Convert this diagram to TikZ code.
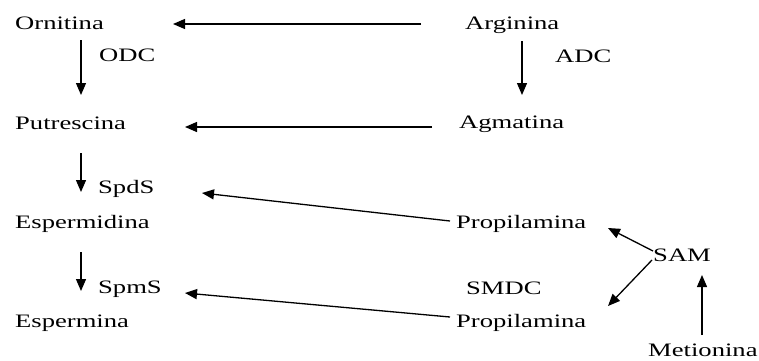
\documentclass[tikz,border=0pt]{standalone}
\usepackage{fontspec}
\setmainfont{Liberation Serif}[FakeStretch=1.4]
\usetikzlibrary{arrows.meta}
\begin{document}
\begin{tikzpicture}[x=1pt,y=-1pt,
  lbl/.style={anchor=base west,inner sep=0pt,font=\fontsize{19}{22}\selectfont},
  arr/.style={line width=1.3pt,-{Triangle[length=12pt,width=10pt]}}]
\useasboundingbox (0,0) rectangle (759,360);
% nodes
\node[lbl] (orn) at (15,29) {Ornitina};
\node[lbl] (arg) at (465,29) {Arginina};
\node[lbl] (odc) at (99,61) {ODC};
\node[lbl] (adc) at (555,62) {ADC};
\node[lbl] (put) at (15,129) {Putrescina};
\node[lbl] (agm) at (459,128) {Agmatina};
\node[lbl] (spds) at (98,193) {SpdS};
\node[lbl] (espd) at (15,228) {Espermidina};
\node[lbl] (prop1) at (456,228) {Propilamina};
\node[lbl] (sam) at (653,261) {SAM};
\node[lbl] (smdc) at (466,294) {SMDC};
\node[lbl] (spms) at (98,293) {SpmS};
\node[lbl] (esp) at (15,327) {Espermina};
\node[lbl] (prop2) at (456,327) {Propilamina};
\node[lbl] (met) at (648,356) {Metionina};
% connector end points
\coordinate (argL) at (421,24);
\coordinate (ornR) at (173,24);
\coordinate (agmL) at (432,127);
\coordinate (putR) at (185,127);
\coordinate (ornB) at (81,40);
\coordinate (putT) at (81,95);
\coordinate (argB) at (522,41);
\coordinate (agmT) at (522,95);
\coordinate (putB) at (81,153);
\coordinate (espdT) at (81,192);
\coordinate (espdB) at (81,252);
\coordinate (espT) at (81,291);
\coordinate (p1L) at (450,221);
\coordinate (spdsR) at (202,193);
\coordinate (p2L) at (450,317);
\coordinate (spmsR) at (185,293);
\coordinate (samUL) at (653,251);
\coordinate (p1R) at (608,228);
\coordinate (samLL) at (652,260);
\coordinate (p2R) at (608,306);
\coordinate (metT) at (702,335);
\coordinate (samB) at (702,275);
% connectors
\draw[arr] (argL) -- (ornR);
\draw[arr] (agmL) -- (putR);
\draw[arr] (ornB) -- (putT);
\draw[arr] (argB) -- (agmT);
\draw[arr] (putB) -- (espdT);
\draw[arr] (espdB) -- (espT);
\draw[arr] (p1L) -- (spdsR);
\draw[arr] (p2L) -- (spmsR);
\draw[arr] (samUL) -- (p1R);
\draw[arr] (samLL) -- (p2R);
\draw[arr] (metT) -- (samB);
\end{tikzpicture}
\end{document}
